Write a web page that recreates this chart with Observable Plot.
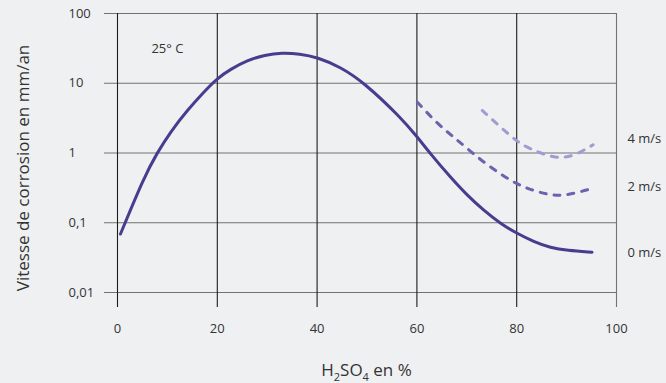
<!DOCTYPE html>
<html><head><meta charset="utf-8">
<script src="https://cdn.jsdelivr.net/npm/d3@7"></script>
<script src="https://cdn.jsdelivr.net/npm/@observablehq/plot@0.6"></script>
<style>
html,body{margin:0;padding:0;background:#eff0f2;}
#chart{width:666px;height:383px;}
</style></head><body><div id="chart"></div>
<script>
// Data
const xTicks = [0, 20, 40, 60, 80, 100];
const yTicks = [0.01, 0.1, 1, 10, 100];
const yTickLabels = ["0,01", "0,1", "1", "10", "100"];

// 0 m/s (solid)
const conc0 = [0.6, 5.3, 8, 10.6, 14, 17.3, 20, 22.6, 26, 29.5, 33, 36.5, 40, 44.7, 49.5, 56.7, 60.1, 62.7, 66.7, 70.1, 73.4, 76.8, 80.1, 83.4, 86.8, 90.1, 95.1];
const rate0 = [0.069, 0.45, 1.02, 2.0, 4.1, 7.5, 11.8, 15.8, 21.3, 25.5, 27.4, 26.4, 23.6, 17.1, 10.1, 3.26, 1.69, 0.975, 0.45, 0.246, 0.150, 0.0966, 0.070, 0.0537, 0.0437, 0.040, 0.0378];

// 2 m/s (dashed)
const conc2 = [60.1, 64.1, 67.4, 70.7, 74.7, 78.8, 82.1, 86.8, 90.1, 95.5];
const rate2 = [5.35, 2.62, 1.69, 1.06, 0.625, 0.40, 0.307, 0.245, 0.245, 0.316];

// 4 m/s (light dashed)
const conc4 = [73.1, 76.8, 79.8, 82.4, 87.4, 91.1, 95.3];
const rate4 = [4.07, 2.34, 1.51, 1.16, 0.84, 0.87, 1.31];

const speedLabels = ["4 m/s", "2 m/s", "0 m/s"];
const speedLabelRate = [1.62, 0.323, 0.0376];

const tempLabel = "25° C";
const tempLabelConc = 10;
const tempLabelRate = 31;

const yTitle = "Vitesse de corrosion en mm/an";

const toPts = (xs, ys) => xs.map((x, i) => ({x, y: ys[i]}));
const s0 = toPts(conc0, rate0);
const s2 = toPts(conc2, rate2);
const s4 = toPts(conc4, rate4);
const lbl = speedLabels.map((t, i) => ({t, y: speedLabelRate[i]}));

const chart = Plot.plot({
  width: 666,
  height: 383,
  marginLeft: 104,
  marginRight: 50,
  marginTop: 13,
  marginBottom: 76,
  style: {background: "#eff0f2", color: "#333", fontFamily: "'Open Sans', sans-serif", fontSize: "13px", overflow: "visible"},
  x: {type: "linear", domain: [0, 100], insetLeft: 13},
  y: {type: "log", domain: [0.01, 100], insetBottom: 15},
  marks: [
    Plot.ruleY(yTicks, {stroke: "#727272", strokeWidth: 1.2}),
    Plot.ruleX(xTicks, {stroke: d => d === 100 ? "#727272" : "#1c1c1c", strokeWidth: 1.1}),
    Plot.line(s0, {x: "x", y: "y", stroke: "#4a3b8e", strokeWidth: 3, curve: "basis"}),
    Plot.line(s2, {x: "x", y: "y", stroke: "#7060ae", strokeWidth: 3, strokeDasharray: "6,8", strokeLinecap: "round", curve: "basis"}),
    Plot.line(s4, {x: "x", y: "y", stroke: "#a698d0", strokeWidth: 3, strokeDasharray: "6,8", strokeLinecap: "round", curve: "basis"}),
    Plot.text([tempLabel], {x: tempLabelConc, y: tempLabelRate, text: d => d, fontSize: 13, fill: "#333"}),
    Plot.text(lbl, {y: "y", text: "t", frameAnchor: "right", dx: 11, textAnchor: "start", fontSize: 13, fill: "#333"}),
    Plot.axisX(xTicks, {tickSize: 0, tickPadding: 16, fontSize: 13, tickFormat: d => String(d), label: null}),
    Plot.axisY(yTicks, {tickSize: 0, tickPadding: 36, textAnchor: "start", fontSize: 13, tickFormat: d => yTickLabels[yTicks.indexOf(d)], label: null})
  ]
});
document.getElementById("chart").appendChild(chart);

const svg = d3.select(chart);
const xs = chart.scale("x");
svg.append("text")
  .attr("transform", "translate(23,168) rotate(-90)")
  .attr("text-anchor", "middle")
  .attr("dy", "0.35em")
  .attr("fill", "#333")
  .style("font-size", "17px")
  .text(yTitle);

const xt = svg.append("text")
  .attr("x", xs.apply(50))
  .attr("y", 376)
  .attr("text-anchor", "middle")
  .attr("fill", "#333")
  .style("font-size", "17px");
xt.append("tspan").text("H");
xt.append("tspan").attr("dy", 5).style("font-size", "11px").text("2");
xt.append("tspan").attr("dy", -5).text("SO");
xt.append("tspan").attr("dy", 5).style("font-size", "11px").text("4");
xt.append("tspan").attr("dy", -5).text(" en %");
</script></body></html>
